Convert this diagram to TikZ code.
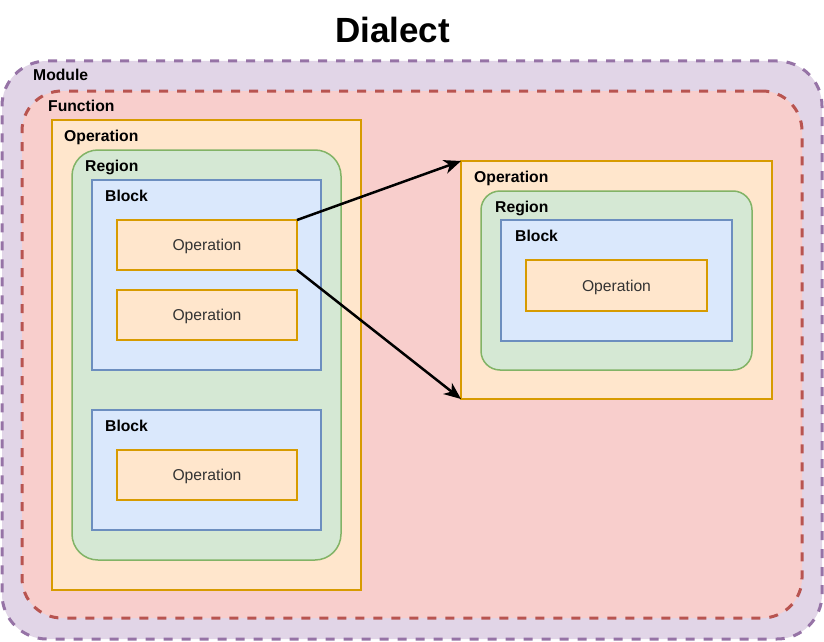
\documentclass[tikz,border=0pt]{standalone}
\usepackage{fontspec}
\setmainfont{Liberation Sans}
\usepackage{xcolor}
\definecolor{modfill}{HTML}{E1D5E7}
\definecolor{modline}{HTML}{9673A6}
\definecolor{funfill}{HTML}{F8CECC}
\definecolor{funline}{HTML}{B85450}
\definecolor{opfill}{HTML}{FFE6CC}
\definecolor{opline}{HTML}{D79B00}
\definecolor{regfill}{HTML}{D5E8D4}
\definecolor{regline}{HTML}{82B366}
\definecolor{blkfill}{HTML}{DAE8FC}
\definecolor{blkline}{HTML}{6C8EBF}
\definecolor{gray800}{HTML}{333333}
\usetikzlibrary{arrows.meta, positioning}

\begin{document}
\begin{tikzpicture}[x=1pt, y=-1pt,
  box/.style={draw, outer sep=0pt, inner sep=0pt, line width=1.5pt},
  modbox/.style={box, fill=modfill, draw=modline, line width=3pt, dash pattern=on 9pt off 9pt, rounded corners=45pt},
  funbox/.style={box, fill=funfill, draw=funline, line width=3pt, dash pattern=on 9pt off 9pt, rounded corners=40pt},
  opbox/.style={box, fill=opfill, draw=opline},
  regbox/.style={box, fill=regfill, draw=regline},
  blkbox/.style={box, fill=blkfill, draw=blkline},
  leaf/.style={opbox, minimum width=180pt, minimum height=50pt, text depth=0pt, font=\fontsize{15.7}{18}\selectfont, text=gray800},
  lbl/.style={font=\fontsize{15.7}{18}\selectfont\bfseries, anchor=base west, inner sep=0pt},
  flow/.style={-{Stealth[length=17pt, width=14pt, inset=5pt]}, line width=2.5pt},
]
\useasboundingbox (0,0) rectangle (824,642);

\node[font=\fontsize{35}{40}\selectfont\bfseries, anchor=base, inner sep=0pt] (title) at (392.5,43) {Dialect};

\node[modbox, minimum width=820pt, minimum height=578pt] (module) at (412,350) {};
\node[funbox, minimum width=780pt, minimum height=527pt] (function) at (412,354.5) {};

% Left operation
\node[opbox, minimum width=309pt, minimum height=470pt] (outerop) at (206.5,355) {};
\node[regbox, rounded corners=26pt, minimum width=269pt, minimum height=410pt] (region) at (206.5,355) {};
\node[blkbox, minimum width=229pt, minimum height=190pt] (blockA) at (206.5,275) {};
\node[leaf] (opA) at (207,245) {Operation};
\node[leaf] (opB) at (207,315) {Operation};
\node[blkbox, minimum width=229pt, minimum height=120pt] (blockB) at (206.5,470) {};
\node[leaf] (opC) at (207,475) {Operation};

% Right operation
\node[opbox, minimum width=311pt, minimum height=238pt] (rightop) at (616.5,280) {};
\node[regbox, rounded corners=19pt, minimum width=271pt, minimum height=179pt] (rightregion) at (616.5,280.5) {};
\node[blkbox, minimum width=231pt, minimum height=121pt] (rightblock) at (616.5,280.5) {};
\node[leaf, minimum width=181pt, minimum height=51pt] (rightleaf) at (616.5,285.5) {Operation};

% Labels
\node[lbl] at ([xshift=31pt, yshift=-20pt]module.north west) {Module};
\node[lbl] at ([xshift=26pt, yshift=-20pt]function.north west) {Function};
\node[lbl] at ([xshift=12pt, yshift=-21pt]outerop.north west) {Operation};
\node[lbl] at ([xshift=13pt, yshift=-21pt]region.north west) {Region};
\node[lbl] at ([xshift=13pt, yshift=-21pt]blockA.north west) {Block};
\node[lbl] at ([xshift=13pt, yshift=-21pt]blockB.north west) {Block};
\node[lbl] at ([xshift=13pt, yshift=-21pt]rightop.north west) {Operation};
\node[lbl] at ([xshift=14pt, yshift=-21pt]rightregion.north west) {Region};
\node[lbl] at ([xshift=14pt, yshift=-21pt]rightblock.north west) {Block};

\draw[flow] (opA.north east) -- (rightop.north west);
\draw[flow] (opA.south east) -- (rightop.south west);

\end{tikzpicture}
\end{document}
